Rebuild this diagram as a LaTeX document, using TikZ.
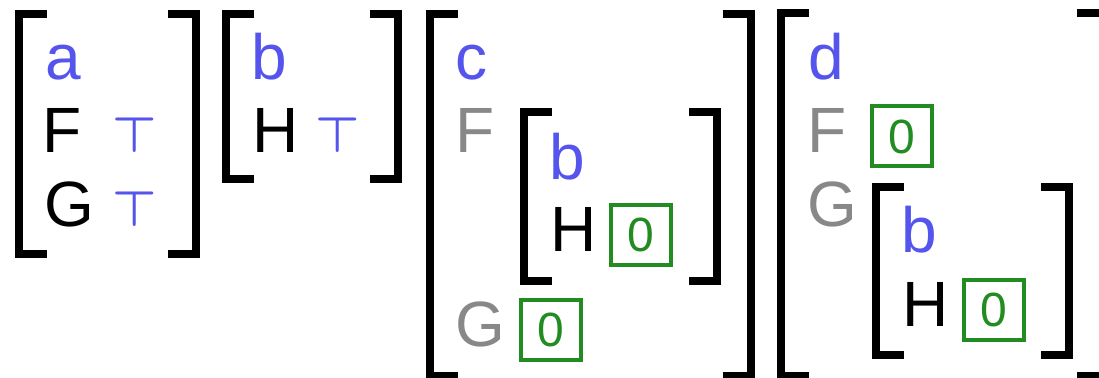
\documentclass[tikz,border=0pt]{standalone}
\usepackage{fontspec}
\setmainfont{Liberation Sans}
\usepackage{tikz}
\definecolor{varblue}{RGB}{85,85,238}
\definecolor{shadegray}{RGB}{136,136,136}
\definecolor{boxgreen}{RGB}{34,139,34}
% one pair of square brackets: left x, right x, top y, bottom y
\newcommand{\bracketpair}[4]{%
  \draw[brak] (#1+28,#3) -- (#1,#3) -- (#1,#4) -- (#1+28,#4);
  \draw[brak] (#2-28,#3) -- (#2,#3) -- (#2,#4) -- (#2-28,#4);
}
\tikzset{
  brak/.style={line width=4pt},
  lbl/.style={anchor=base west, inner sep=0pt, font=\fontsize{32}{32}\selectfont},
  tname/.style={lbl, text=varblue},
  fieldon/.style={lbl, text=black},
  fieldoff/.style={lbl, text=shadegray},
  topval/.style={anchor=base, inner sep=0pt, text=varblue, font=\fontsize{27}{27}\selectfont\boldmath},
  zerobox/.style={draw=boxgreen, line width=2pt, minimum size=30pt, inner sep=0pt,
    text=boxgreen, font=\fontsize{24}{24}\selectfont},
}

\begin{document}
\begin{tikzpicture}[x=0.5pt, y=-0.5pt]
\useasboundingbox (0,0) rectangle (1099,378);
\clip (0,0) rectangle (1099,378);

% brackets
\bracketpair{19}{196}{14}{254}
\bracketpair{226}{398}{14}{179}
\bracketpair{430}{751}{14}{376}
\bracketpair{524}{717}{112}{281}
\bracketpair{781}{1105}{13}{376}
\bracketpair{876}{1069}{187}{355}

% a
\node[tname] (aname) at (45,80) {a};
\node[fieldon] (aF) at (42,153) {F};
\node[topval] (aFv) at (135,153) {$\top$};
\node[fieldon] (aG) at (44,227) {G};
\node[topval] (aGv) at (135,227) {$\top$};

% b
\node[tname] (bname) at (251,80) {b};
\node[fieldon] (bH) at (252,153) {H};
\node[topval] (bHv) at (338,153) {$\top$};

% c
\node[tname] (cname) at (455,80) {c};
\node[fieldoff] (cF) at (455,153) {F};
\node[tname] (cb) at (549,180) {b};
\node[fieldon] (cH) at (550,252) {H};
\node[zerobox] (cHv) at (641,235) {0};
\node[fieldoff] (cG) at (455,347) {G};
\node[zerobox] (cGv) at (550.5,330) {0};

% d
\node[tname] (dname) at (808,80) {d};
\node[fieldoff] (dF) at (807,153) {F};
\node[zerobox] (dFv) at (902,136.5) {0};
\node[fieldoff] (dG) at (807,227) {G};
\node[tname] (db) at (901,253) {b};
\node[fieldon] (dH) at (902,327) {H};
\node[zerobox] (dHv) at (993.5,310) {0};

\end{tikzpicture}
\end{document}
